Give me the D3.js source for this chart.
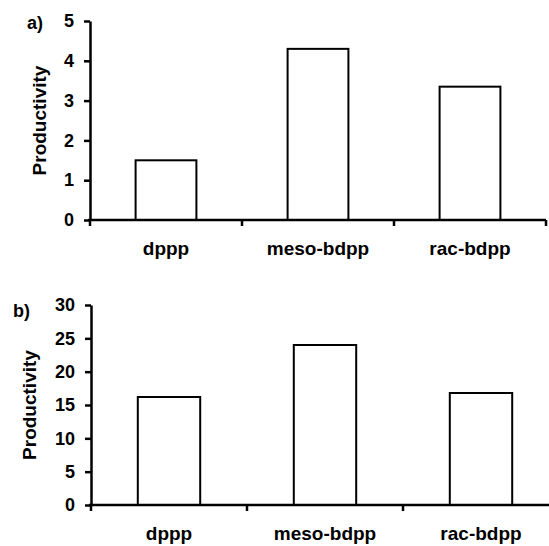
<!DOCTYPE html>
<html>
<head>
<meta charset="utf-8">
<script src="https://cdn.jsdelivr.net/npm/d3@7"></script>
<style>
  body { margin: 0; background: #fff; }
  svg { display: block; font-family: "Liberation Sans", Arial, sans-serif; font-weight: bold; }
</style>
</head>
<body>
<div id="chart"></div>
<script>
  var categories = ['dppp', 'meso-bdpp', 'rac-bdpp'];
  var productivityA = [1.5, 4.3, 3.35];
  var productivityB = [16.2, 24.0, 16.8];
  var ticksA = [0, 1, 2, 3, 4, 5];
  var ticksB = [0, 5, 10, 15, 20, 25, 30];

  var w = 549, h = 546;
  var svg = d3.select('#chart').append('svg').attr('width', w).attr('height', h);

  // one panel per call
  var drawPanel = function(opt) {
    var x = d3.scaleBand().domain(categories).range([opt.left, opt.right]).paddingInner(0).paddingOuter(0);
    var y = d3.scaleLinear().domain([0, opt.max]).range([opt.bottom, opt.top]);
    var barW = x.bandwidth() * 0.4;

    var g = svg.append('g');

    // bars
    g.append('g').selectAll('rect')
      .data(opt.values)
      .enter()
      .append('rect')
      .attr('x', function(d, i) { return x(categories[i]) + (x.bandwidth() - barW) / 2; })
      .attr('y', function(d) { return y(d); })
      .attr('width', barW)
      .attr('height', function(d) { return y(0) - y(d); })
      .attr('fill', '#fff')
      .attr('stroke', '#000')
      .attr('stroke-width', 2);

    // y axis
    var yAxis = g.append('g')
      .attr('transform', 'translate(' + opt.left + ',0)')
      .call(d3.axisLeft(y).tickValues(opt.ticks).tickFormat(d3.format('d'))
        .tickSize(6).tickSizeOuter(0).tickPadding(10));
    yAxis.select('.domain').attr('stroke-width', 2.5);
    yAxis.selectAll('.tick line').attr('stroke-width', 2.5);
    yAxis.selectAll('.tick text').attr('font-size', 18).attr('font-weight', 'bold').attr('font-family', null).attr('fill', '#000');

    // x axis (labels at band centres, ticks at band edges)
    var xAxis = g.append('g')
      .attr('transform', 'translate(0,' + opt.bottom + ')')
      .call(d3.axisBottom(x).tickSize(0).tickSizeOuter(0).tickPadding(22));
    xAxis.select('.domain').attr('stroke-width', 2.5).attr('d', 'M' + (opt.left - 2) + ',0H' + opt.right);
    xAxis.selectAll('.tick text').attr('font-size', 19).attr('font-weight', 'bold').attr('font-family', null).attr('fill', '#000');

    var edges = [x.range()[0]].concat(categories.map(function(c) { return x(c) + x.bandwidth(); }));
    xAxis.append('g').selectAll('line')
      .data(edges)
      .enter()
      .append('line')
      .attr('x1', function(d) { return d; })
      .attr('x2', function(d) { return d; })
      .attr('y1', 0)
      .attr('y2', 6)
      .attr('stroke', '#000')
      .attr('stroke-width', 2.5);

    // axis title
    g.append('text')
      .attr('transform', 'translate(' + opt.titleX + ',' + (opt.top + opt.bottom) / 2 + ') rotate(-90)')
      .attr('text-anchor', 'middle')
      .attr('font-size', 19)
      .text('Productivity');

    // panel letter
    g.append('text')
      .attr('x', opt.labelX)
      .attr('y', opt.labelY)
      .attr('font-size', 18)
      .text(opt.label);
  };

  drawPanel({ values: productivityA, ticks: ticksA, max: 5, left: 90, right: 546, top: 21, bottom: 220,
    titleX: 46, label: 'a)', labelX: 27, labelY: 29 });
  drawPanel({ values: productivityB, ticks: ticksB, max: 30, left: 91, right: 559, top: 305, bottom: 505,
    titleX: 36, label: 'b)', labelX: 13, labelY: 317 });
</script>
</body>
</html>
